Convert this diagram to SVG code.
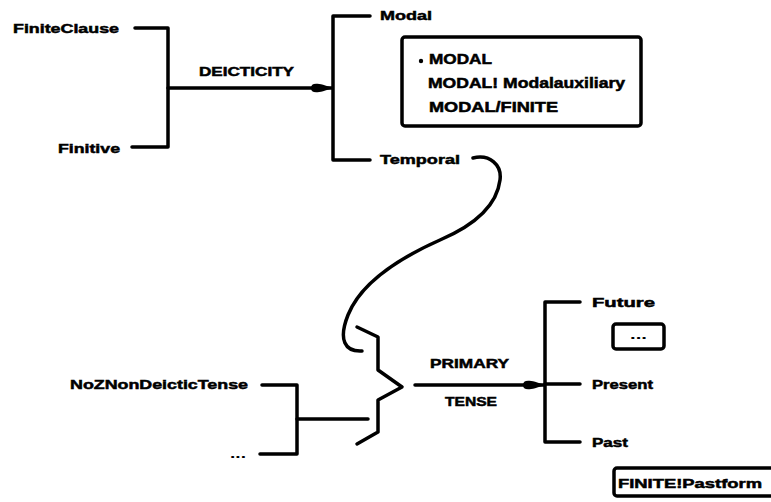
<svg xmlns="http://www.w3.org/2000/svg" width="771" height="502" viewBox="0 0 771 502">
<style>
.t{font-family:"Liberation Sans",Arial,sans-serif;font-weight:bold;font-size:13px;fill:#000;stroke:#000;stroke-width:0.5}
.b{font-size:14px}
.d{stroke:none}
.ln{fill:none;stroke:#000;stroke-width:3.5;stroke-linecap:round;stroke-linejoin:round}
.bx{fill:#fff;stroke:#000;stroke-width:3.5}
</style>
<defs>
<marker id="ah" markerUnits="userSpaceOnUse" viewBox="0 0 24 14" refX="22" refY="7" markerWidth="24" markerHeight="14" orient="auto">
<path d="M1 7 C1 1 8 1.5 23 7 C8 12.5 1 13 1 7 Z" fill="#000"/>
</marker>
</defs>
<rect width="771" height="502" fill="#fff"/>
<g id="connectors">
<path class="ln" d="M135 28 H168 V147 H132"/>
<path class="ln" d="M168 88 H332" marker-end="url(#ah)"/>
<path class="ln" d="M370 16 H333 V160 H370"/>
<path class="ln" d="M473 158 C490 154 502 165 500 180 C497 205 475 225 440 240 C395 260 360 285 348 315 C338 340 345 352 362 351"/>
<path class="ln" d="M357 327 L378 337 L378 370 L402 387 L378 400 L378 432 L357 444"/>
<path class="ln" d="M262 385 H297 V454 H260"/>
<path class="ln" d="M297 419 H368"/>
<path class="ln" d="M415 385 H544" marker-end="url(#ah)"/>
<path class="ln" d="M580 302 H545 V442 H580"/>
<path class="ln" d="M545 384 H580"/>
</g>
<g id="FiniteClause"><text class="t" x="13" y="33" textLength="106" lengthAdjust="spacingAndGlyphs">FiniteClause</text></g>
<g id="Finitive"><text class="t" x="58" y="153" textLength="62" lengthAdjust="spacingAndGlyphs">Finitive</text></g>
<g id="DEICTICITY"><text class="t" x="199" y="76" textLength="95" lengthAdjust="spacingAndGlyphs">DEICTICITY</text></g>
<g id="Modal"><text class="t" x="380" y="20" textLength="52" lengthAdjust="spacingAndGlyphs">Modal</text></g>
<g id="Temporal"><text class="t" x="380" y="164" textLength="80" lengthAdjust="spacingAndGlyphs">Temporal</text></g>
<g id="ModalBox">
<rect class="bx" x="402" y="37" width="239" height="89" rx="3"/>
<circle cx="421" cy="61" r="2.2" fill="#000"/>
<text class="t b" x="429" y="64" textLength="63" lengthAdjust="spacingAndGlyphs">MODAL</text>
<text class="t b" x="428" y="88" textLength="197" lengthAdjust="spacingAndGlyphs">MODAL! Modalauxiliary</text>
<text class="t b" x="429" y="112" textLength="129" lengthAdjust="spacingAndGlyphs">MODAL/FINITE</text>
</g>
<g id="NoZNonDeicticTense"><text class="t" x="70" y="389" textLength="178" lengthAdjust="spacingAndGlyphs">NoZNonDeicticTense</text></g>
<g id="Etc"><text class="t d" x="230" y="458" textLength="16" lengthAdjust="spacingAndGlyphs">...</text></g>
<g id="PRIMARYTENSE">
<text class="t" x="430" y="368" textLength="79" lengthAdjust="spacingAndGlyphs">PRIMARY</text>
<text class="t" x="445" y="406" textLength="52" lengthAdjust="spacingAndGlyphs">TENSE</text>
</g>
<g id="Future"><text class="t" x="592" y="307" textLength="63" lengthAdjust="spacingAndGlyphs">Future</text></g>
<g id="FutureBox">
<rect class="bx" x="613" y="324" width="51" height="25" rx="3"/>
<text class="t d" x="630" y="339" textLength="17" lengthAdjust="spacingAndGlyphs">...</text>
</g>
<g id="Present"><text class="t" x="592" y="389" textLength="61" lengthAdjust="spacingAndGlyphs">Present</text></g>
<g id="Past"><text class="t" x="592" y="447" textLength="36" lengthAdjust="spacingAndGlyphs">Past</text></g>
<g id="PastBox">
<rect class="bx" x="614" y="468" width="170" height="28" rx="3"/>
<text class="t" x="618" y="488" textLength="144" lengthAdjust="spacingAndGlyphs">FINITE!Pastform</text>
</g>
</svg>
